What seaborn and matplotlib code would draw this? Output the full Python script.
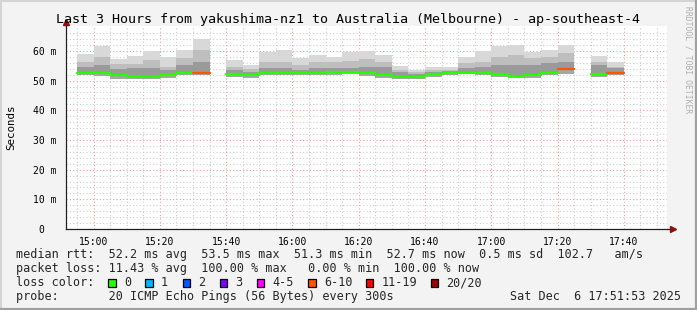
import numpy as np
import pandas as pd
import matplotlib
matplotlib.use("Agg")
import matplotlib.pyplot as plt
import seaborn as sns
from matplotlib.patches import Rectangle
from matplotlib.lines import Line2D

# ---------------- data ----------------
bin_start = ["14:55", "15:00", "15:05", "15:10", "15:15", "15:20", "15:25", "15:30",
             "15:35", "15:40", "15:45", "15:50", "15:55", "16:00", "16:05", "16:10",
             "16:15", "16:20", "16:25", "16:30", "16:35", "16:40", "16:45", "16:50",
             "16:55", "17:00", "17:05", "17:10", "17:15", "17:20", "17:25", "17:30",
             "17:35"]
nan = np.nan
rtt_max = [59.0, 61.5, 57.3, 58.4, 60.1, 57.9, 60.3, 64.0,
           nan, 57.0, 55.3, 59.8, 60.3, 57.7, 58.6, 57.9,
           59.8, 60.0, 58.6, 54.9, 53.6, 54.5, 54.5, 57.9,
           60.1, 61.5, 62.0, 59.8, 60.3, 62.0, nan, 58.4,
           56.2]
rtt_mid = [56.4, 58.1, 55.5, 55.5, 57.0, 54.5, 57.5, 60.3,
           nan, 54.5, 53.8, 56.4, 56.4, 55.1, 56.2, 56.4,
           56.7, 57.2, 56.4, 53.6, 52.8, 53.5, 53.6, 55.8,
           56.4, 58.1, 58.6, 57.5, 58.1, 59.2, nan, 56.4,
           54.7]
rtt_dark = [54.7, 55.3, 54.0, 54.2, 54.2, 53.6, 55.1, 56.4,
            nan, 53.6, 53.0, 54.2, 54.2, 53.6, 54.2, 54.2,
            54.2, 54.7, 54.7, 52.8, 52.2, 52.8, 53.2, 54.2,
            54.5, 55.3, 55.3, 55.3, 55.8, 56.4, nan, 55.1,
            54.2]
rtt_median = [52.6, 52.6, 51.9, 51.2, 51.2, 51.9, 52.6, 52.6,
              nan, 52.1, 51.9, 52.5, 52.5, 52.7, 52.7, 52.8,
              52.8, 52.5, 51.9, 51.3, 51.3, 52.1, 52.7, 52.7,
              52.6, 52.2, 51.7, 51.9, 52.7, 53.8, nan, 52.1,
              52.7]
rtt_min = [51.9, 51.7, 50.6, 50.6, 50.6, 51.0, 51.9, 51.9,
           nan, 51.3, 51.0, 51.9, 51.9, 51.9, 51.9, 51.9,
           52.1, 51.7, 50.8, 50.6, 50.6, 51.3, 51.9, 52.1,
           51.9, 51.3, 50.8, 51.0, 51.9, 52.1, nan, 51.3,
           51.9]
loss_class = ["0", "0", "0", "0", "0", "0", "0", "6-10",
              None, "0", "0", "0", "0", "0", "0", "0",
              "0", "0", "0", "0", "0", "0", "0", "0",
              "0", "0", "0", "0", "0", "6-10", None, "0",
              "6-10"]

loss_labels = ["0", "1", "2", "3", "4-5", "6-10", "11-19", "20/20"]
loss_colors = ["#26ff00", "#00b8ff", "#0059ff", "#7e00ff", "#ff00ff",
               "#ff5500", "#ff0000", "#a00000"]

x_tick_labels = ["15:00", "15:20", "15:40", "16:00", "16:20", "16:40",
                 "17:00", "17:20", "17:40"]
y_tick_values = [0, 10, 20, 30, 40, 50, 60]
y_tick_labels = ["0  ", "10 m", "20 m", "30 m", "40 m", "50 m", "60 m"]

title = "Last 3 Hours from yakushima-nz1 to Australia (Melbourne) - ap-southeast-4"
stat_lines = [
    "median rtt:  52.2 ms avg  53.5 ms max  51.3 ms min  52.7 ms now  0.5 ms sd  102.7   am/s",
    "packet loss: 11.43 % avg  100.00 % max   0.00 % min  100.00 % now",
]
probe_line = "probe:       20 ICMP Echo Pings (56 Bytes) every 300s"
stamp = "Sat Dec  6 17:51:53 2025"

# ---------------- helpers ----------------
def tmin(s):
    h, m = s.split(":")
    return int(h) * 60 + int(m)

BIN = 5
starts = np.array([tmin(s) for s in bin_start], dtype=float)

W, H = 697, 310
def fx(px):
    return px / W
def fy(py):
    return 1 - py / H

sns.set_style("white")
plt.rcParams["font.family"] = ["DejaVu Sans Mono"]

fig = plt.figure(figsize=(W / 100, H / 100), dpi=100, facecolor="#f3f3f3")
ax = fig.add_axes([fx(66), fy(229), (667 - 66) / W, (229 - 26) / H])
ax.set_facecolor("white")

x0 = tmin("15:00")
ax.set_xlim(x0 - 8.3, x0 + 173.0)
ax.set_ylim(0, 68.4)

# grid
ax.set_xticks([tmin(t) for t in x_tick_labels])
ax.set_xticklabels(x_tick_labels)
ax.set_xticks(np.arange(tmin("14:55"), tmin("17:55"), 5), minor=True)
ax.set_yticks(y_tick_values)
ax.set_yticklabels(y_tick_labels)
ax.set_yticks(np.arange(0, 68, 2), minor=True)
ax.grid(which="minor", color="#d0d0d0", linestyle=(0, (1, 2)), linewidth=0.8)
ax.grid(which="major", color="#f0a0a0", linestyle=(0, (1, 2)), linewidth=0.8)
ax.set_axisbelow(True)

ax.tick_params(which="major", axis="both", length=2.5, width=0.8, color="black",
               direction="out", labelsize=7, colors="black")
ax.tick_params(which="major", axis="y", pad=4)
ax.tick_params(which="major", axis="x", pad=3)
ax.tick_params(which="minor", axis="both", length=1.5, width=0.6, color="#555555",
               direction="inout")

for s in ["top", "right"]:
    ax.spines[s].set_visible(False)
for s in ["left", "bottom"]:
    ax.spines[s].set_color("#222222")
    ax.spines[s].set_linewidth(0.9)

# ---------------- smoke ----------------
valid = ~np.isnan(np.array(rtt_max))
xs = starts[valid]
mx = np.array(rtt_max)[valid]
md = np.array(rtt_mid)[valid]
dk = np.array(rtt_dark)[valid]
me = np.array(rtt_median)[valid]
mn = np.array(rtt_min)[valid]

ax.bar(xs, mx - mn, bottom=mn, width=BIN, align="edge", color="#d8d8d8", linewidth=0, zorder=2)
ax.bar(xs, md - mn, bottom=mn, width=BIN, align="edge", color="#bebebe", linewidth=0, zorder=3)
ax.bar(xs, dk - me, bottom=me, width=BIN, align="edge", color="#9a9a9a", linewidth=0, zorder=4)
ax.bar(xs, me - mn, bottom=mn, width=BIN, align="edge", color="#a6a6a6", linewidth=0, zorder=4)

# ---------------- median lines (seaborn) ----------------
rows = []
for i, (s, m, lc) in enumerate(zip(starts, rtt_median, loss_class)):
    if lc is None or np.isnan(m):
        continue
    rows.append({"t": s, "rtt": m, "bin": i, "loss": lc})
    rows.append({"t": s + BIN, "rtt": m, "bin": i, "loss": lc})
med_df = pd.DataFrame(rows)
palette = dict(zip(loss_labels, loss_colors))
sns.lineplot(data=med_df, x="t", y="rtt", units="bin", estimator=None, hue="loss",
             palette=palette, linewidth=1.6, legend=False, sort=False, ax=ax, zorder=6)
ax.set_xlabel("")
ax.set_ylabel("")

# axis arrows
ax.plot([0, 0], [1.0, 1.03], transform=ax.transAxes, color="#222222", lw=0.9, clip_on=False)
ax.plot([0], [1.02], transform=ax.transAxes, marker="^", color="#8b1010", markersize=4.5,
        clip_on=False, linestyle="none")
ax.plot([1.0, 1.013], [0, 0], transform=ax.transAxes, color="#222222", lw=0.9, clip_on=False)
ax.plot([1.01], [0], transform=ax.transAxes, marker=">", color="#8b1010", markersize=4.5,
        clip_on=False, linestyle="none")

# ---------------- texts ----------------
fig.text(0.5, fy(19), title, ha="center", va="center", fontsize=9.6, color="black")
fig.text(fx(11), fy(127), "Seconds", rotation=90, ha="center", va="center",
         fontsize=7.8, color="black")
fig.text(fx(688), fy(6), "RRDTOOL / TOBI OETIKER", rotation=270, ha="center", va="top",
         fontsize=5.8, color="#b0b0b0")

fs = 8.5
fig.text(fx(16), fy(254.5), stat_lines[0], ha="left", va="center", fontsize=fs)
fig.text(fx(16), fy(268.5), stat_lines[1], ha="left", va="center", fontsize=fs)
fig.text(fx(16), fy(282.5), "loss color:", ha="left", va="center", fontsize=fs)
sq_x = [108.3, 145.3, 182.5, 219.5, 256.5, 308.3, 365.7, 430.7]
for lbl, col, sx in zip(loss_labels, loss_colors, sq_x):
    fig.add_artist(Rectangle((fx(sx), fy(286.5)), 7.5 / W, 7.5 / H, transform=fig.transFigure,
                             facecolor=col, edgecolor="black", linewidth=0.9))
    fig.text(fx(sx + 15.5), fy(282.5), lbl, ha="left", va="center", fontsize=fs)
fig.text(fx(16), fy(296.5), probe_line, ha="left", va="center", fontsize=fs)
fig.text(fx(681), fy(296.5), stamp, ha="right", va="center", fontsize=fs)

# frame border
fig.add_artist(Line2D([0, 1], [fy(1), fy(1)], transform=fig.transFigure, color="#d4d4d4", lw=1.5))
fig.add_artist(Line2D([fx(1), fx(1)], [0, 1], transform=fig.transFigure, color="#d4d4d4", lw=1.5))
fig.add_artist(Line2D([0, 1], [fy(308.5), fy(308.5)], transform=fig.transFigure, color="#a0a0a0", lw=2.3))
fig.add_artist(Line2D([fx(695.5), fx(695.5)], [0, 1], transform=fig.transFigure, color="#a0a0a0", lw=2.3))

fig.savefig("out.png", dpi=100, facecolor=fig.get_facecolor())
